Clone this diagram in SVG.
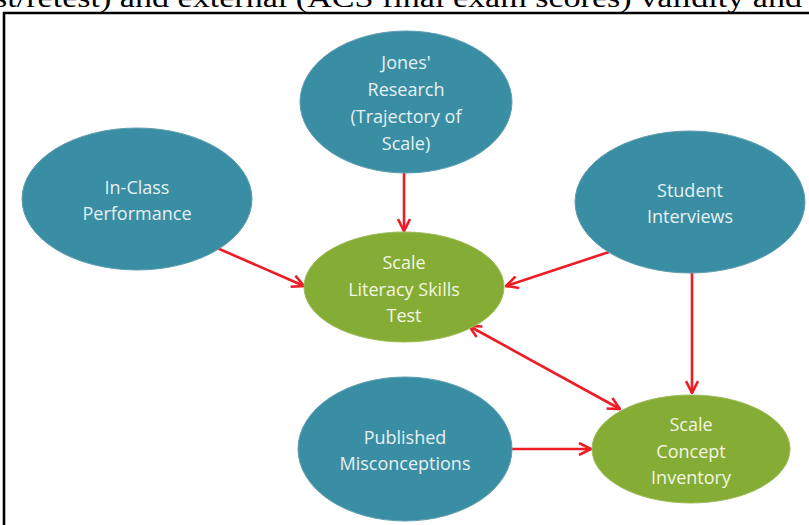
<svg xmlns="http://www.w3.org/2000/svg" width="809" height="525" viewBox="0 0 809 525">
  <defs>
    <marker id="arr" viewBox="0 0 14 14" refX="13" refY="7" markerWidth="14" markerHeight="14" markerUnits="userSpaceOnUse" orient="auto-start-reverse">
      <path d="M1,1 L13,7 L1,13" fill="none" stroke="#ee1c25" stroke-width="2.6"/>
    </marker>
  </defs>
  <style>
    .teal { fill: #3a8ea4; stroke: #5f9fb0; stroke-width: 1; }
    .green { fill: #85ac34; stroke: #9cbc5a; stroke-width: 1; }
    .lbl { font-family: "Open Sans", "Liberation Sans", sans-serif; font-size: 18px; text-anchor: middle; dominant-baseline: central; }
    .lt { fill: #e6f0f2; }
    .lg { fill: #f2f6e2; }
    .conn { stroke: #ee1c25; stroke-width: 2.6; fill: none; }
    .frame { stroke: #000; stroke-width: 2.6; fill: none; }
    .top { font-family: "Liberation Serif", "Times New Roman", serif; font-size: 28px; fill: #000; }
  </style>
  <rect x="0" y="0" width="809" height="525" fill="#fff"/>
  <text class="top" x="-6" y="7" textLength="808" lengthAdjust="spacingAndGlyphs">st/retest) and external (ACS final exam scores) validity and</text>
  <path class="frame" d="M4,525 L4,13 L809,13"/>

  <g id="connectors">
    <line class="conn" x1="404" y1="173" x2="404" y2="231" marker-end="url(#arr)"/>
    <line class="conn" x1="217" y1="248" x2="304" y2="286" marker-end="url(#arr)"/>
    <line class="conn" x1="609" y1="252" x2="506" y2="286" marker-end="url(#arr)"/>
    <line class="conn" x1="692" y1="273" x2="692" y2="393" marker-end="url(#arr)"/>
    <line class="conn" x1="469" y1="326" x2="620" y2="409" marker-start="url(#arr)" marker-end="url(#arr)"/>
    <line class="conn" x1="505" y1="449" x2="591" y2="449" marker-end="url(#arr)"/>
  </g>

  <g id="jones">
    <ellipse class="teal" cx="406" cy="102" rx="106" ry="71"/>
    <text class="lbl lt" x="406" y="62">Jones'</text>
    <text class="lbl lt" x="406" y="89">Research</text>
    <text class="lbl lt" x="406" y="116">(Trajectory of</text>
    <text class="lbl lt" x="406" y="143">Scale)</text>
  </g>
  <g id="inclass">
    <ellipse class="teal" cx="137" cy="199" rx="115" ry="71"/>
    <text class="lbl lt" x="137" y="187">In-Class</text>
    <text class="lbl lt" x="137" y="213">Performance</text>
  </g>
  <g id="student">
    <ellipse class="teal" cx="690" cy="202" rx="115" ry="71"/>
    <text class="lbl lt" x="690" y="190">Student</text>
    <text class="lbl lt" x="690" y="216">Interviews</text>
  </g>
  <g id="slst">
    <ellipse class="green" cx="404" cy="287" rx="100" ry="55"/>
    <text class="lbl lg" x="404" y="262">Scale</text>
    <text class="lbl lg" x="404" y="289">Literacy Skills</text>
    <text class="lbl lg" x="404" y="315">Test</text>
  </g>
  <g id="published">
    <ellipse class="teal" cx="405" cy="449" rx="107" ry="72"/>
    <text class="lbl lt" x="405" y="437">Published</text>
    <text class="lbl lt" x="405" y="463">Misconceptions</text>
  </g>
  <g id="sci">
    <ellipse class="green" cx="691" cy="449" rx="99" ry="54"/>
    <text class="lbl lg" x="691" y="424">Scale</text>
    <text class="lbl lg" x="691" y="451">Concept</text>
    <text class="lbl lg" x="691" y="477">Inventory</text>
  </g>
</svg>
